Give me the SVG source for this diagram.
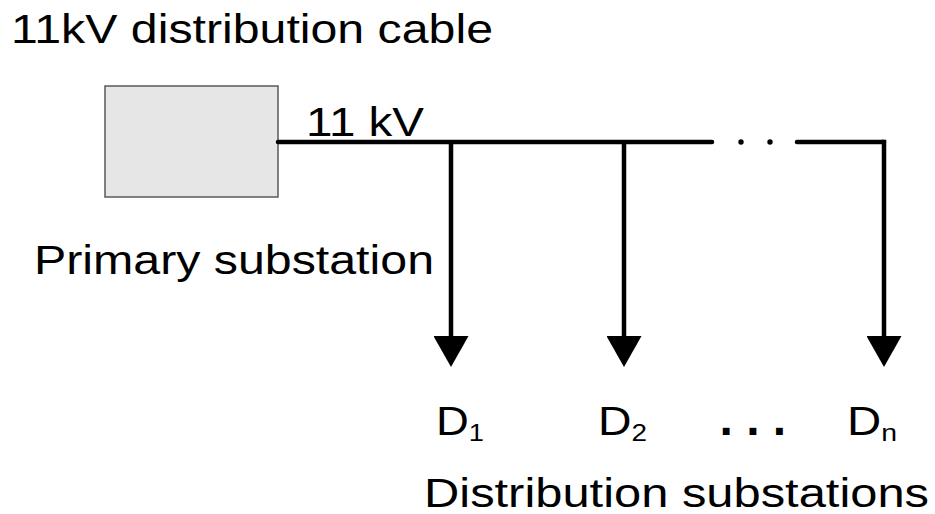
<svg xmlns="http://www.w3.org/2000/svg" width="935" height="514" viewBox="0 0 935 514">
  <defs>
    <style>
      text { font-family: "Liberation Sans", Arial, sans-serif; fill: #000; }
      .lbl { font-size: 40px; }
      .sub { font-size: 24px; }
      .wire { fill: none; stroke: #000; stroke-width: 4.5; }
      .round { stroke-linecap: round; }
      .feed { marker-end: url(#arrow); }
    </style>
    <marker id="arrow" markerUnits="userSpaceOnUse" viewBox="0 -17.5 31 35" markerWidth="31" markerHeight="35" refX="0" refY="0" orient="auto">
      <path d="M0,-17.5 L31,0 L0,17.5 Z" fill="#000"/>
    </marker>
  </defs>
  <rect width="935" height="514" fill="#fff"/>

  <text id="title" class="lbl" x="11" y="43" textLength="482" lengthAdjust="spacingAndGlyphs">11kV distribution cable</text>

  <g id="primary-substation">
    <rect x="105" y="86" width="173" height="111" fill="#e6e6e6" stroke="#5a5a5a" stroke-width="1.5"/>
    <text class="lbl" x="34" y="274" textLength="400" lengthAdjust="spacingAndGlyphs">Primary substation</text>
  </g>

  <g id="connectors">
    <path class="wire round" d="M278,142 H712"/>
    <path class="wire round" d="M797,142 H884"/>
    <path class="wire feed" d="M884,139.75 V336"/>
    <path class="wire feed" d="M451,142 V336"/>
    <path class="wire feed" d="M624,142 V336"/>
    <circle cx="741" cy="142" r="2.7" fill="#000"/>
    <circle cx="770" cy="142" r="2.7" fill="#000"/>
    <text class="lbl" x="306" y="136" textLength="118" lengthAdjust="spacingAndGlyphs">11 kV</text>
  </g>

  <g id="D1">
    <text class="lbl" x="436" y="435" textLength="48" lengthAdjust="spacingAndGlyphs">D<tspan class="sub" dy="6">1</tspan></text>
  </g>
  <g id="D2">
    <text class="lbl" x="598" y="435" textLength="49" lengthAdjust="spacingAndGlyphs">D<tspan class="sub" dy="6">2</tspan></text>
  </g>
  <g id="ellipsis">
    <text x="719.5" y="435" style="font-size:48px;font-weight:bold">. . .</text>
  </g>
  <g id="Dn">
    <text class="lbl" x="847" y="435" textLength="50" lengthAdjust="spacingAndGlyphs">D<tspan class="sub" dy="6">n</tspan></text>
  </g>

  <text id="distribution-substations" class="lbl" x="424" y="507" textLength="505" lengthAdjust="spacingAndGlyphs">Distribution substations</text>
</svg>
